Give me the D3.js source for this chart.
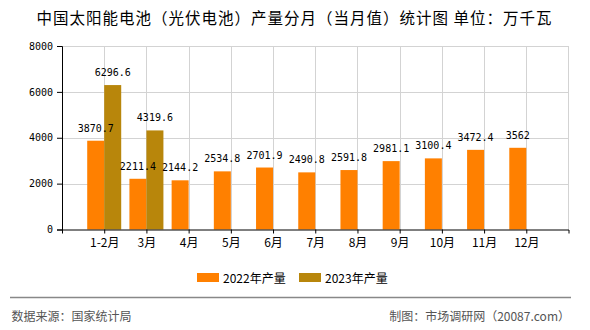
<!DOCTYPE html>
<html><head><meta charset="utf-8">
<script src="https://cdn.jsdelivr.net/npm/d3@7"></script>
<style>
html,body{margin:0;padding:0;background:#fff;}
svg{display:block;}
</style></head>
<body>
<svg id="chart" width="590" height="330"></svg>
<script>
const categories = ["1-2月","3月","4月","5月","6月","7月","8月","9月","10月","11月","12月"];
const series2022 = [3870.7,2211.4,2144.2,2534.8,2701.9,2490.8,2591.8,2981.1,3100.4,3472.4,3562];
const series2023 = [6296.6,4319.6,null,null,null,null,null,null,null,null,null];
const seriesNames = ["2022年产量","2023年产量"];
const yTicks = [0,2000,4000,6000,8000];
const titleText = "中国太阳能电池（光伏电池）产量分月（当月值）统计图 单位：万千瓦";
const sourceText = "数据来源：国家统计局";
const creditText = "制图：市场调研网（20087.com）";

const colors = ["#FF8000","#B8860B"];
const svg = d3.select("#chart");
const L = 62, R = 568.5, T = 46, B = 229.5;
const cjk = "'Noto Sans CJK SC','Noto Sans',sans-serif";
const mono = "'DejaVu Sans Mono','Liberation Mono',monospace";

const x = d3.scalePoint().domain(categories).range([L, R]).padding(1);
const y = d3.scaleLinear().domain([0, 8000]).range([B, T]);
const bw = 17;

// title
svg.append("text").attr("x", 36.5).attr("y", 24).attr("font-family", cjk)
  .attr("font-size", 15.5).attr("fill", "#000")
  .attr("textLength", 515).attr("lengthAdjust", "spacing").text(titleText);

// grid
const g = svg.append("g");
g.selectAll("line.h").data(yTicks.filter(d => d > 0)).enter().append("line")
  .attr("x1", L).attr("x2", R).attr("y1", d => Math.round(y(d)) + 0.5).attr("y2", d => Math.round(y(d)) + 0.5)
  .attr("stroke", "#d3d3d3").attr("stroke-width", 1);
g.selectAll("line.v").data(categories).enter().append("line")
  .attr("x1", d => Math.round(x(d)) + 0.5).attr("x2", d => Math.round(x(d)) + 0.5)
  .attr("y1", T).attr("y2", B).attr("stroke", "#d3d3d3");
g.append("line").attr("x1", R).attr("x2", R).attr("y1", T).attr("y2", B).attr("stroke", "#d3d3d3");

// bars
const bars = svg.append("g");
categories.forEach((c, i) => {
  const cx = x(c);
  if (series2022[i] != null) {
    bars.append("rect").attr("x", cx - bw).attr("width", bw)
      .attr("y", y(series2022[i])).attr("height", B - y(series2022[i])).attr("fill", colors[0]);
  }
  if (series2023[i] != null) {
    bars.append("rect").attr("x", cx).attr("width", bw)
      .attr("y", y(series2023[i])).attr("height", B - y(series2023[i])).attr("fill", colors[1]);
  }
});

// data labels
const labels = svg.append("g").attr("font-family", mono).attr("font-size", 10).attr("fill", "#000").attr("text-anchor", "middle");
categories.forEach((c, i) => {
  const cx = x(c);
  if (series2022[i] != null)
    labels.append("text").attr("x", cx - bw/2).attr("y", y(series2022[i]) - 9).text(series2022[i]);
  if (series2023[i] != null)
    labels.append("text").attr("x", cx + bw/2).attr("y", y(series2023[i]) - 9).text(series2023[i]);
});

// y axis
const yAxis = d3.axisLeft(y).tickValues(yTicks).tickFormat(d3.format("d")).tickSize(5).tickPadding(4);
const ya = svg.append("g").attr("transform", `translate(${L},0)`).call(yAxis);
ya.select(".domain").attr("stroke", "#000");
ya.selectAll(".tick line").attr("stroke", "#000");
ya.selectAll("text").attr("font-family", mono).attr("font-size", 10).attr("fill", "#000");

// x axis
const xAxis = d3.axisBottom(x).tickSize(4).tickPadding(5).tickSizeOuter(4);
const xa = svg.append("g").attr("transform", `translate(0,${B})`).call(xAxis);
xa.select(".domain").attr("stroke", "#000");
xa.selectAll(".tick line").attr("stroke", "#000");
xa.selectAll("text").attr("font-family", cjk).attr("font-size", 12).attr("fill", "#000");

// legend
const leg = svg.append("g").attr("font-family", cjk).attr("font-size", 12);
const legX = [197, 299];
seriesNames.forEach((n, i) => {
  leg.append("rect").attr("x", legX[i]).attr("y", 273).attr("width", 22).attr("height", 9).attr("fill", colors[i]);
  leg.append("text").attr("x", legX[i] + 26).attr("y", 282.5).attr("fill", "#000").text(n);
});

// footer
svg.append("line").attr("x1", 10).attr("x2", 571).attr("y1", 297.5).attr("y2", 297.5).attr("stroke", "#888").attr("stroke-width", 1.5);
svg.append("text").attr("x", 11.5).attr("y", 321).attr("font-family", cjk).attr("font-size", 12).attr("fill", "#555").text(sourceText);
svg.append("text").attr("x", 570).attr("y", 321).attr("text-anchor", "end").attr("font-family", cjk).attr("font-size", 12).attr("fill", "#555").text(creditText);
</script>
</body></html>
